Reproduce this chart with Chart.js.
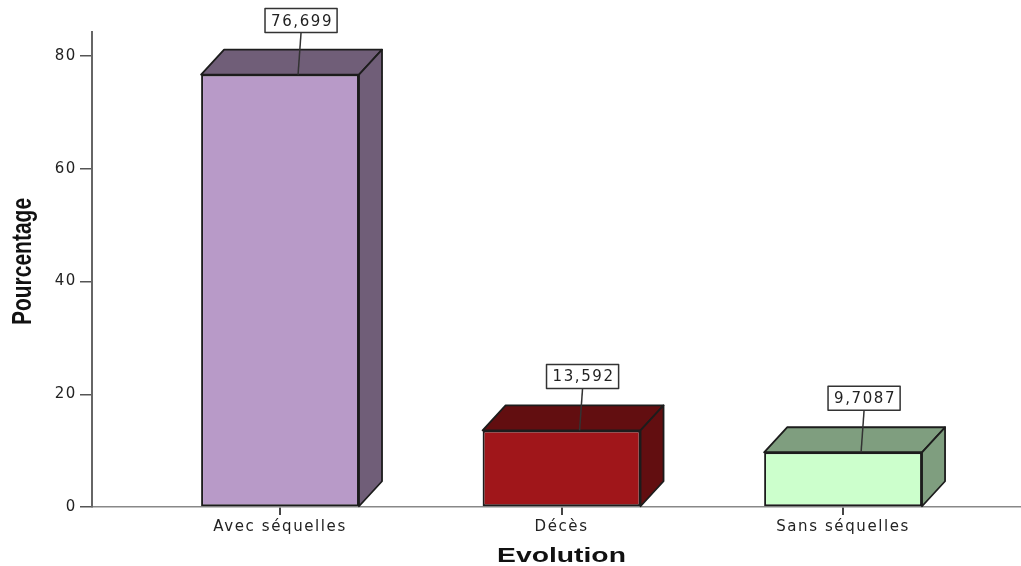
<!DOCTYPE html>
<html lang="fr">
<head>
<meta charset="UTF-8">
<title>Evolution</title>
<script src="https://cdn.jsdelivr.net/npm/chart.js"></script>
<style>
  html, body { margin: 0; padding: 0; background: #fff; }
  #wrap { width: 1021px; height: 566px; }
</style>
</head>
<body>
<div id="wrap"><canvas id="evolutionChart" width="1021" height="566"></canvas></div>
<script>
  // données
  const categories = ['Avec séquelles', 'Décès', 'Sans séquelles'];
  const percentages = [76.699, 13.592, 9.7087];
  const valueLabels = ['76,699', '13,592', '9,7087'];
  const yTicks = [0, 20, 40, 60, 80];
  const xTitle = 'Evolution';
  const yTitle = 'Pourcentage';

  // couleurs : face avant / faces dessus + côté
  const frontColors = ['#b89ac8', '#a0161a', '#ccffcc'];
  const sideColors = ['#705e78', '#620e10', '#7f9e7f'];

  const DX = 23, DY = 25;
  const TEXT_FONT = '"DejaVu Sans", sans-serif';
  const TITLE_FONT = '"Liberation Sans", Arial, sans-serif';

  // dessine le dessus et le côté de chaque barre, puis l'étiquette de valeur
  const box3d = {
    id: 'box3d',
    beforeDraw(chart) {
      chart.ctx.letterSpacing = '1.6px';
    },
    afterDatasetsDraw(chart) {
      const ctx = chart.ctx;
      const meta = chart.getDatasetMeta(0);
      meta.data.forEach((bar, i) => {
        const left = bar.x - bar.width / 2;
        const right = bar.x + bar.width / 2;
        const top = bar.y;
        const base = bar.base;

        ctx.save();
        ctx.lineJoin = 'round';
        ctx.strokeStyle = '#1c1c1c';
        ctx.lineWidth = 1.8;
        ctx.fillStyle = sideColors[i];

        ctx.beginPath();
        ctx.moveTo(left, top);
        ctx.lineTo(left + DX, top - DY);
        ctx.lineTo(right + DX, top - DY);
        ctx.lineTo(right, top);
        ctx.closePath();
        ctx.fill();
        ctx.stroke();

        ctx.beginPath();
        ctx.moveTo(right, top);
        ctx.lineTo(right + DX, top - DY);
        ctx.lineTo(right + DX, base - DY);
        ctx.lineTo(right, base);
        ctx.closePath();
        ctx.fill();
        ctx.stroke();

        // étiquette
        const tx = bar.x + 18;
        const bx = tx + 3;
        const by = top - 42;
        ctx.font = '15px ' + TEXT_FONT;
        const w = ctx.measureText(valueLabels[i]).width + 10;
        const h = 24;

        ctx.strokeStyle = '#333';
        ctx.lineWidth = 1.5;
        ctx.beginPath();
        ctx.moveTo(bx, by);
        ctx.lineTo(tx, top);
        ctx.stroke();

        ctx.fillStyle = '#fff';
        ctx.fillRect(bx - w / 2, by - h, w, h);
        ctx.strokeRect(bx - w / 2, by - h, w, h);

        ctx.fillStyle = '#222';
        ctx.textAlign = 'center';
        ctx.textBaseline = 'middle';
        ctx.fillText(valueLabels[i], bx + 1, by - h / 2 + 1);
        ctx.restore();
      });
    },
    // titres des axes, en gras, un peu étirés
    afterDraw(chart) {
      const ctx = chart.ctx;
      const area = chart.chartArea;
      ctx.save();
      ctx.letterSpacing = '0px';
      ctx.fillStyle = '#111';
      ctx.font = 'bold 19.5px ' + TITLE_FONT;
      ctx.textAlign = 'center';
      ctx.textBaseline = 'alphabetic';

      ctx.save();
      ctx.translate((area.left + area.right) / 2 + 5, chart.height - 4);
      ctx.scale(1.45, 1);
      ctx.fillText(xTitle, 0, 0);
      ctx.restore();

      ctx.font = 'bold 21px ' + TITLE_FONT;
      ctx.translate(31, (area.top + area.bottom) / 2 - 8);
      ctx.rotate(-Math.PI / 2);
      ctx.scale(1, 1.3);
      ctx.fillText(yTitle, 0, 0);
      ctx.restore();
    }
  };

  const ctx = document.getElementById('evolutionChart').getContext('2d');
  new Chart(ctx, {
    type: 'bar',
    data: {
      datasets: [{
        data: percentages.map((v, i) => ({ x: i + 1, y: v })),
        backgroundColor: frontColors,
        borderColor: '#1c1c1c',
        borderWidth: 2,
        borderSkipped: false,
        barPercentage: 0.561,
        categoryPercentage: 1
      }]
    },
    options: {
      responsive: false,
      animation: false,
      devicePixelRatio: 1,
      layout: { padding: { top: 32, left: 0, right: 0, bottom: 0 } },
      plugins: {
        legend: { display: false },
        tooltip: { enabled: false }
      },
      scales: {
        x: {
          type: 'linear',
          min: 0.332,
          max: 3.632,
          offset: false,
          afterBuildTicks: s => { s.ticks = categories.map((c, i) => ({ value: i + 1 })); },
          afterFit: s => { s.height = 59; },
          ticks: {
            callback: v => categories[v - 1],
            autoSkip: false,
            maxRotation: 0,
            padding: 3,
            color: '#222',
            font: { family: TEXT_FONT, size: 15 }
          },
          grid: { offset: false, drawOnChartArea: false, drawTicks: true, tickLength: 8, color: '#444', lineWidth: 2 },
          border: { color: '#888', width: 1.5 }
        },
        y: {
          min: 0,
          max: 84.26,
          afterBuildTicks: s => { s.ticks = yTicks.map(v => ({ value: v })); },
          afterFit: s => { s.width = 92; },
          ticks: {
            padding: 3,
            color: '#222',
            font: { family: TEXT_FONT, size: 15 }
          },
          grid: { drawOnChartArea: false, drawTicks: true, tickLength: 12, color: '#555', lineWidth: 1.5 },
          border: { color: '#666', width: 2 }
        }
      }
    },
    plugins: [box3d]
  });
</script>
</body>
</html>
